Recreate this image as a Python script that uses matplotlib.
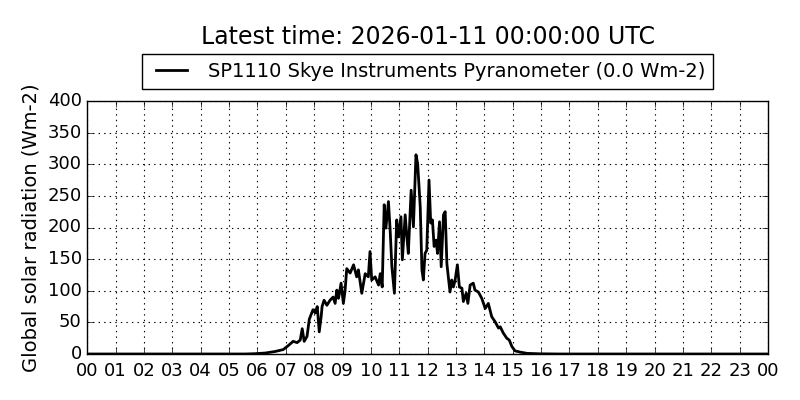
import matplotlib
matplotlib.use("Agg")
import matplotlib.pyplot as plt

# time of day in hours (UTC) and global solar radiation in Wm-2
hours = [0.00, 5.57, 5.92, 6.27, 6.63, 6.91, 7.08, 7.26, 7.40, 7.51, 7.58, 7.65,
         7.75, 7.83, 7.89, 7.96, 8.04, 8.11, 8.18, 8.25, 8.28, 8.35, 8.45, 8.56,
         8.67, 8.74, 8.80, 8.86, 8.95, 9.03, 9.09, 9.15, 9.27, 9.39, 9.50, 9.56,
         9.68, 9.80, 9.91, 9.97, 10.03, 10.15, 10.27, 10.33, 10.40, 10.47, 10.53,
         10.62, 10.68, 10.74, 10.83, 10.91, 10.97, 11.06, 11.11, 11.21, 11.27,
         11.32, 11.42, 11.50, 11.59, 11.65, 11.74, 11.80, 11.85, 11.91, 11.97,
         12.05, 12.11, 12.17, 12.23, 12.30, 12.35, 12.42, 12.48, 12.56, 12.62,
         12.68, 12.73, 12.79, 12.85, 12.91, 12.97, 13.05, 13.12, 13.21, 13.26,
         13.36, 13.42, 13.50, 13.61, 13.67, 13.79, 13.91, 14.03, 14.14, 14.26,
         14.38, 14.50, 14.56, 14.67, 14.79, 14.88, 14.97, 15.08, 15.26, 15.51,
         15.96, 16.67, 24.00]
radiation = [0, 0, 0.5, 1.5, 4, 7, 13, 20, 18, 22, 40, 20,
             28, 55, 62, 70, 65, 75, 35, 60, 75, 85, 77, 85,
             90, 80, 101, 88, 112, 80, 100, 135, 128, 141, 122, 133,
             96, 127, 122, 162, 117, 122, 109, 127, 106, 236, 199,
             241, 196, 138, 96, 212, 185, 217, 149, 220, 185,
             159, 259, 201, 315, 301, 233, 133, 117, 159, 164,
             275, 207, 212, 170, 180, 159, 209, 138, 220, 225,
             143, 122, 98, 117, 106, 117, 141, 106, 104, 83,
             96, 80, 109, 112, 101, 98, 88, 72, 80, 59,
             51, 41, 43, 33, 25, 22, 12, 5, 3, 1,
             0.3, 0, 0]

latest = "2026-01-11 00:00:00 UTC"
current_value = 0.0
hour_labels = ["%02d" % (h % 24) for h in range(25)]

plt.style.use("classic")
plt.rcParams["font.family"] = ["DejaVu Sans"]

fig = plt.figure(figsize=(8, 4), dpi=100, facecolor="white")
ax = fig.add_axes([0.109, 0.115, 0.851, 0.6325])

ax.plot(hours, radiation, color="black", linewidth=2,
        label="SP1110 Skye Instruments Pyranometer (%.1f Wm-2)" % current_value)

ax.set_xlim(0, 24)
ax.set_ylim(0, 400)
ax.set_xticks(range(25))
ax.set_xticklabels(hour_labels)
ax.set_yticks(range(0, 401, 50))
ax.tick_params(labelsize=13)
ax.tick_params(axis="x", pad=6)
ax.grid(True, color="black", linestyle=":", linewidth=0.8)
ax.set_ylabel("Global solar radiation (Wm-2)", fontsize=14)

ax.set_title("Latest time: " + latest, fontsize=17, pad=41)
ax.legend(loc="lower center", bbox_to_anchor=(0.5, 1.01), fontsize=14,
          frameon=True, fancybox=False, borderpad=0.4, handlelength=2.2)

fig.savefig("out.png", dpi=100, facecolor="white")
